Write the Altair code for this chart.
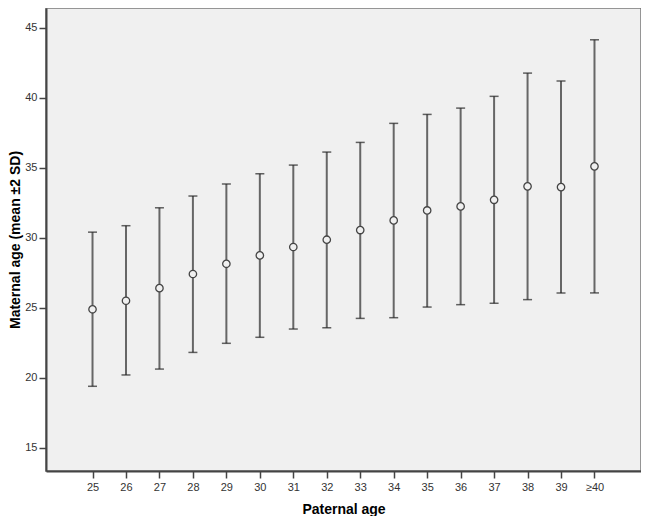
import altair as alt
import pandas as pd
import json

paternal = ["25", "26", "27", "28", "29", "30", "31", "32", "33", "34", "35", "36", "37", "38", "39", "≥40"]
mean_age = [24.89, 25.50, 26.40, 27.41, 28.14, 28.74, 29.34, 29.86, 30.55, 31.24, 31.95, 32.24, 32.71, 33.67, 33.62, 35.10]
upper = [30.40, 30.86, 32.14, 32.98, 33.84, 34.57, 35.19, 36.12, 36.81, 38.17, 38.81, 39.26, 40.10, 41.76, 41.19, 44.14]
lower = [19.39, 20.20, 20.62, 21.81, 22.46, 22.89, 23.48, 23.57, 24.24, 24.29, 25.05, 25.22, 25.32, 25.58, 26.05, 26.06]

df = pd.DataFrame({"idx": list(range(len(paternal))), "paternal": paternal,
                   "mean": mean_age, "upper": upper, "lower": lower})

FONT = "Liberation Sans"
PAD = 1.39
label_expr = "%s[datum.value]" % json.dumps(paternal, ensure_ascii=False)

x = alt.X("idx:Q", title="Paternal age",
          scale=alt.Scale(domain=[-PAD, len(paternal) - 1 + PAD], nice=False, zero=False),
          axis=alt.Axis(values=list(range(len(paternal))), labelExpr=label_expr,
                        labelAngle=0, tickSize=7, labelPadding=3, titlePadding=10,
                        labelFontSize=11, labelColor="#333333", tickColor="#444444",
                        domainColor="#444444", domainWidth=2, tickWidth=1.5,
                        titleFontSize=14, titleFontWeight="bold", titleColor="#000000",
                        labelFont=FONT, titleFont=FONT, grid=False, labelFlush=False))
yscale = alt.Scale(domain=[13.34, 46.41], nice=False, zero=False)
yaxis = alt.Axis(values=[15, 20, 25, 30, 35, 40, 45], tickSize=7, labelPadding=2, titlePadding=2,
                 labelFontSize=11, labelColor="#333333", tickColor="#444444",
                 domainColor="#444444", domainWidth=2, tickWidth=1.5,
                 titleFontSize=14, titleFontWeight="bold", titleColor="#000000",
                 labelFont=FONT, titleFont=FONT, grid=False, labelFlush=False)

base = alt.Chart(df)

bars = base.mark_rule(color="#666666", strokeWidth=2).encode(
    x=x,
    y=alt.Y("lower:Q", scale=yscale, axis=yaxis, title="Maternal age (mean ±2 SD)"),
    y2="upper:Q",
)
cap_hi = base.mark_tick(color="#222222", size=9, thickness=1.5, orient="horizontal").encode(
    x=x, y=alt.Y("upper:Q", scale=yscale))
cap_lo = base.mark_tick(color="#222222", size=9, thickness=1.5, orient="horizontal").encode(
    x=x, y=alt.Y("lower:Q", scale=yscale))
points = base.mark_point(shape="circle", size=55, filled=False, color="#444444",
                         strokeWidth=1.3, fill="#f0f0f0", fillOpacity=1).encode(
    x=x, y=alt.Y("mean:Q", scale=yscale))

chart = alt.layer(bars, cap_hi, cap_lo, points).properties(
    width=595, height=463, padding=0,
    background="#ffffff",
).configure_view(
    fill="#f0f0f0", stroke="#777777", strokeWidth=1.5
)

chart.save("out.html", embed_options={"renderer": "svg", "actions": False})
